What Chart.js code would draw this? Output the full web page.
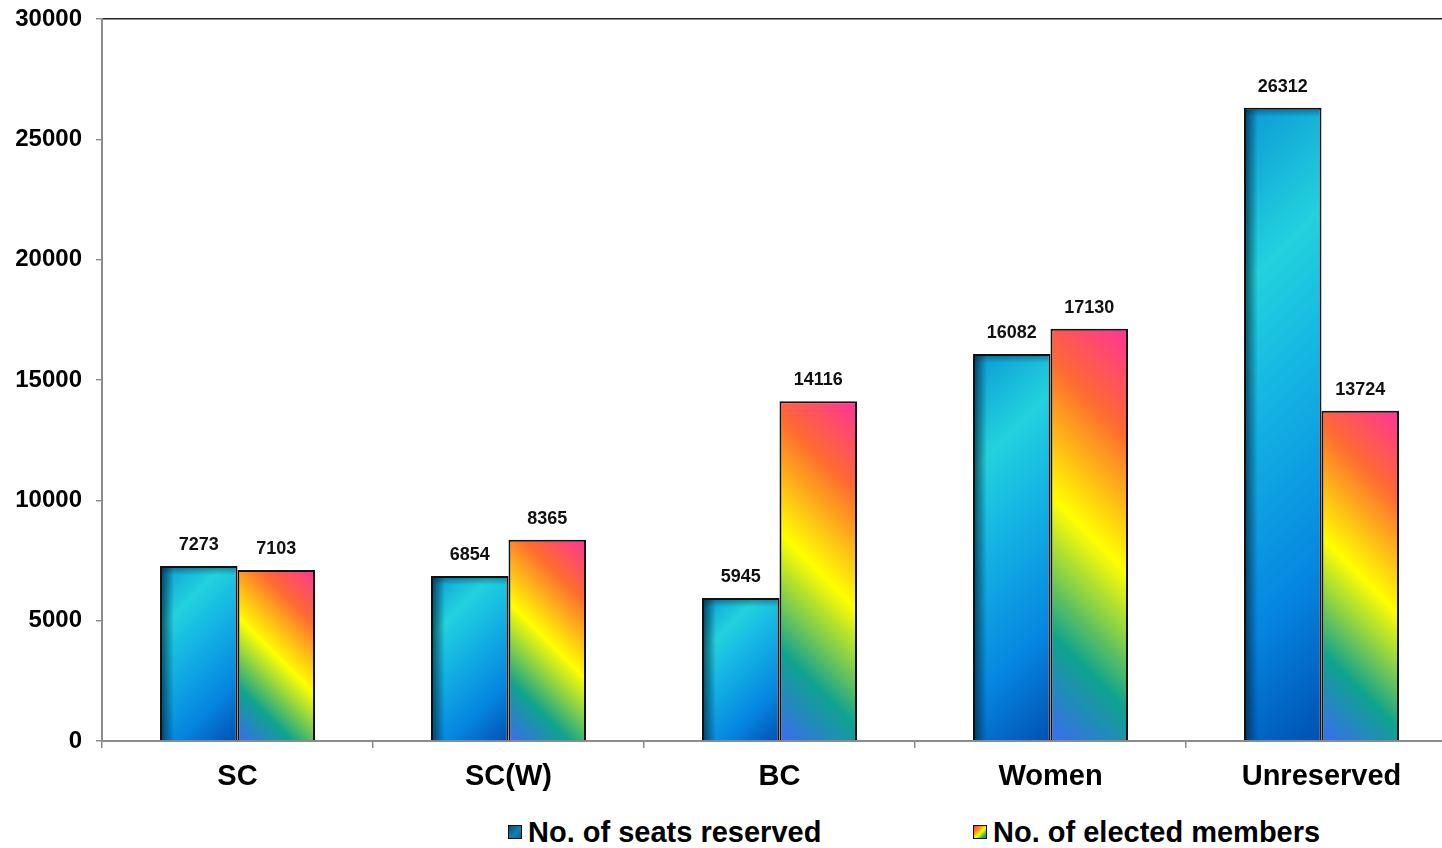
<!DOCTYPE html>
<html>
<head>
<meta charset="utf-8">
<title>Seats reserved vs elected members</title>
<script src="https://cdn.jsdelivr.net/npm/chart.js@4.4.1/dist/chart.umd.min.js"></script>
<style>
  html, body { margin: 0; padding: 0; background: #fff; overflow: hidden; }
  #wrap { position: relative; width: 1442px; height: 848px; overflow: hidden; }
  #seatChart { position: absolute; left: 0; top: 0; }
  .legend { position: absolute; top: 812px; left: 0; width: 1442px; height: 40px;
            font: bold 29px "Liberation Sans", Arial, sans-serif; color: #000; }
  .legend-item { position: absolute; top: 0; height: 40px; display: flex; align-items: center; white-space: nowrap; }
  .legend-box { width: 12px; height: 12px; border: 1.5px solid #111; margin-right: 6px; }
</style>
</head>
<body>
<div id="wrap">
  <canvas id="seatChart" width="1460" height="808"></canvas>
  <div class="legend" id="legend"></div>
</div>
<script>
var categories = ["SC", "SC(W)", "BC", "Women", "Unreserved"];
var seatsReserved = [7273, 6854, 5945, 16082, 26312];
var electedMembers = [7103, 8365, 14116, 17130, 13724];
var seriesNames = ["No. of seats reserved", "No. of elected members"];
var yTicks = [0, 5000, 10000, 15000, 20000, 25000, 30000];

var FONT = '"Liberation Sans", Arial, sans-serif';
var CAT_PCT = 0.572;

// where a bar sits, taken from the scales (null until layout is done)
function barRect(c) {
    var chart = c.chart;
    if (!chart.chartArea || c.dataIndex === undefined) return null;
    var xs = chart.scales.x, ys = chart.scales.y;
    var center = xs.getPixelForValue(c.dataIndex);
    var w = xs.width / categories.length * CAT_PCT / 2;
    var left = c.datasetIndex === 0 ? center - w : center;
    var top = ys.getPixelForValue(c.raw);
    var bottom = ys.getPixelForValue(0);
    if (!isFinite(left) || !isFinite(top) || !isFinite(bottom)) return null;
    return {left: left, top: top, w: w, h: bottom - top};
}

// blue bars: diagonal cyan/blue fill with a dark shaded left & top edge
function bluePattern(c) {
    var r = barRect(c);
    if (!r) return "#0a8ee0";
    var w = Math.max(1, Math.round(r.w)), h = Math.max(1, Math.round(r.h));
    var off = document.createElement("canvas");
    off.width = w; off.height = h;
    var g = off.getContext("2d");
    var d = (w + h) / 2;
    var lin = g.createLinearGradient(0, 0, d, d);
    lin.addColorStop(0, "#0c98d6");
    lin.addColorStop(0.25, "#22d2dd");
    lin.addColorStop(0.45, "#14b4e3");
    lin.addColorStop(0.75, "#0586e0");
    lin.addColorStop(1, "#0050b2");
    g.fillStyle = lin;
    g.fillRect(0, 0, w, h);
    var side = g.createLinearGradient(0, 0, 14, 0);
    side.addColorStop(0, "rgba(0,30,50,0.75)");
    side.addColorStop(1, "rgba(0,30,50,0)");
    g.fillStyle = side;
    g.fillRect(0, 0, 14, h);
    var topShade = g.createLinearGradient(0, 0, 0, 9);
    topShade.addColorStop(0, "rgba(0,30,50,0.45)");
    topShade.addColorStop(1, "rgba(0,30,50,0)");
    g.fillStyle = topShade;
    g.fillRect(0, 0, w, 9);
    var pat = c.chart.ctx.createPattern(off, "no-repeat");
    pat.setTransform(new DOMMatrix().translate(r.left, r.top));
    return pat;
}

// rainbow bars: blue bottom-left -> teal -> yellow -> orange -> pink top-right
function rainbowGradient(c) {
    var r = barRect(c);
    if (!r) return "#ffcc00";
    var d = (r.w + r.h) / 2;
    var bottom = r.top + r.h;
    var lin = c.chart.ctx.createLinearGradient(r.left, bottom, r.left + d, bottom - d);
    lin.addColorStop(0, "#3a6cf0");
    lin.addColorStop(0.22, "#0fa38e");
    lin.addColorStop(0.5, "#ffff00");
    lin.addColorStop(0.78, "#ff6a30");
    lin.addColorStop(1, "#ff3399");
    return lin;
}

// numbers above the bars
var valueLabels = {
    id: "valueLabels",
    afterDatasetsDraw: function(chart) {
        var ctx = chart.ctx;
        ctx.save();
        ctx.font = "bold 18px " + FONT;
        ctx.fillStyle = "#111";
        ctx.textAlign = "center";
        ctx.textBaseline = "middle";
        chart.data.datasets.forEach(function(ds, i) {
            chart.getDatasetMeta(i).data.forEach(function(bar, j) {
                ctx.fillText(String(ds.data[j]), bar.x, bar.y - 21);
            });
        });
        ctx.restore();
    }
};

var ctx = document.getElementById("seatChart");
var chart = new Chart(ctx, {
    type: "bar",
    data: {
        labels: categories,
        datasets: [
            {
                label: seriesNames[0],
                data: seatsReserved,
                backgroundColor: bluePattern,
                borderColor: "#111",
                borderWidth: 2,
                barPercentage: 1,
                categoryPercentage: CAT_PCT
            },
            {
                label: seriesNames[1],
                data: electedMembers,
                backgroundColor: rainbowGradient,
                borderColor: "#111",
                borderWidth: 2,
                barPercentage: 1,
                categoryPercentage: CAT_PCT
            }
        ]
    },
    options: {
        responsive: false,
        animation: false,
        layout: { padding: { top: 19, right: 3, left: 0, bottom: 0 } },
        plugins: {
            legend: { display: false },
            tooltip: { enabled: false }
        },
        scales: {
            x: {
                offset: true,
                grid: { offset: true, drawOnChartArea: false, drawTicks: true, tickLength: 7, color: "#8c8c8c", lineWidth: 1.5 },
                border: { color: "#8c8c8c", width: 2 },
                ticks: { color: "#000", padding: 12, maxRotation: 0, font: { family: FONT, size: 29, weight: "bold" } },
                afterFit: function(s) { s.height = 67; }
            },
            xTop: {
                type: "category",
                position: "top",
                labels: categories,
                grid: { display: false },
                ticks: { display: false },
                border: { color: "#222", width: 1.5 },
                afterFit: function(s) { s.height = 0; }
            },
            y: {
                min: 0,
                max: 30000,
                grid: { drawOnChartArea: false, drawTicks: true, tickLength: 6, color: "#8c8c8c", lineWidth: 1.5 },
                border: { color: "#8c8c8c", width: 2 },
                ticks: {
                    color: "#000",
                    padding: 14,
                    // small lineHeight keeps the top label from pushing the plot down
                    font: { family: FONT, size: 24, weight: "bold", lineHeight: 0.3 },
                    callback: function(v) { return String(v); }
                },
                afterBuildTicks: function(s) {
                    s.ticks = yTicks.map(function(v) { return {value: v}; });
                },
                afterFit: function(s) { s.width = 102; }
            }
        }
    },
    plugins: [valueLabels]
});

// legend under the chart, built from the dataset labels
var legendSwatch = [
    "linear-gradient(135deg, #0a4a78 0%, #137fae 55%, #0b5f92 100%)",
    "linear-gradient(135deg, #ff3366 0%, #ff8a1a 30%, #ffff00 55%, #30b060 82%, #2d7fd0 100%)"
];
var legendLeft = [508, 973];
var legendEl = document.getElementById("legend");
chart.data.datasets.forEach(function(ds, i) {
    var item = document.createElement("div");
    item.className = "legend-item";
    item.style.left = legendLeft[i] + "px";
    var box = document.createElement("span");
    box.className = "legend-box";
    box.style.background = legendSwatch[i];
    var text = document.createElement("span");
    text.textContent = ds.label;
    item.appendChild(box);
    item.appendChild(text);
    legendEl.appendChild(item);
});
</script>
</body>
</html>
